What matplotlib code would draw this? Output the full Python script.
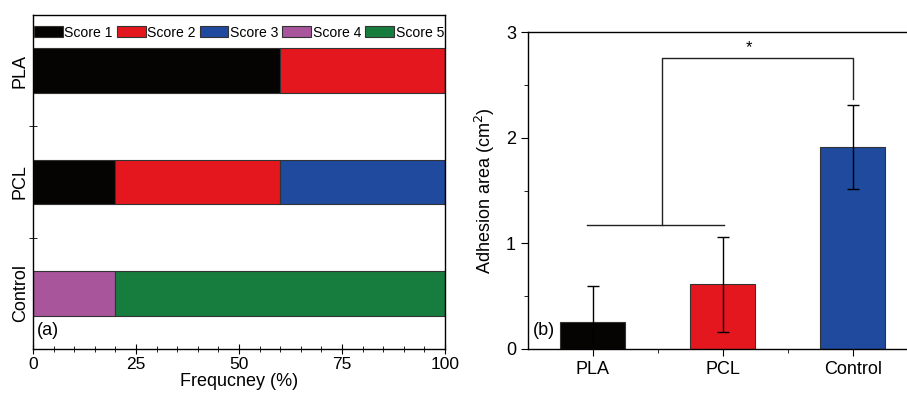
import numpy as np
import matplotlib.pyplot as plt
from matplotlib.ticker import MultipleLocator, FixedLocator

plt.rcParams['font.family'] = ['Liberation Sans', 'DejaVu Sans']

# (a) score distribution per material, percent
groups = ['Control', 'PCL', 'PLA']
score_names = ['Score 1', 'Score 2', 'Score 3', 'Score 4', 'Score 5']
score_pct = {
    'Score 1': [0, 20, 60],
    'Score 2': [0, 40, 40],
    'Score 3': [0, 40, 0],
    'Score 4': [20, 0, 0],
    'Score 5': [80, 0, 0],
}
score_colors = ['#060303', '#e5171e', '#1f4a9e', '#a8559c', '#177d3e']

# (b) adhesion area
materials = ['PLA', 'PCL', 'Control']
area_mean = [0.25, 0.61, 1.91]
area_err = [0.34, 0.45, 0.40]
bar_colors = ['#060303', '#e5171e', '#1f4a9e']

fig = plt.figure(figsize=(9.07, 3.99), dpi=100)

# ---- panel (a) ----
ax1 = fig.add_axes([0.0364, 0.1253, 0.4542, 0.8371])
ypos = np.arange(len(groups))
left = np.zeros(len(groups))
for name, col in zip(score_names, score_colors):
    vals = np.array(score_pct[name], dtype=float)
    ax1.barh(ypos, vals, left=left, height=0.4, color=col,
             edgecolor='#333333', linewidth=0.8, label=name)
    left += vals
ax1.set_xlim(0, 100)
ax1.set_ylim(-0.5, 2.5)
ax1.set_yticks(ypos)
ax1.set_yticklabels(groups, rotation=90, va='center', fontsize=13)
ax1.yaxis.set_minor_locator(FixedLocator([0.5, 1.5]))
ax1.tick_params(axis='y', which='major', length=0, pad=3)
ax1.tick_params(axis='y', which='minor', direction='inout', length=6)
ax1.set_xticks([0, 25, 50, 75, 100])
ax1.xaxis.set_minor_locator(MultipleLocator(5))
ax1.tick_params(axis='x', which='major', direction='inout', length=7, labelsize=12.5, pad=2)
ax1.tick_params(axis='x', which='minor', direction='inout', length=4)
ax1.set_xlabel('Frequcney (%)', fontsize=13, labelpad=1)
ax1.legend(loc='upper center', ncol=5, frameon=False, fontsize=10.1,
           handlelength=2.05, handleheight=0.75, handletextpad=0.12,
           columnspacing=0.28, borderaxespad=0.55, borderpad=0.2,
           bbox_to_anchor=(0.5, 1.0))
ax1.text(0.01, 0.055, '(a)', transform=ax1.transAxes, fontsize=13, va='center')
for s in ax1.spines.values():
    s.set_linewidth(1.0)

# ---- panel (b) ----
ax2 = fig.add_axes([0.5818, 0.1261, 0.43, 0.7929])
xpos = np.arange(len(materials))
ax2.bar(xpos, area_mean, width=0.5, color=bar_colors, edgecolor='#333333', linewidth=0.8)
ax2.errorbar(xpos, area_mean, yerr=area_err, fmt='none', ecolor='black',
             elinewidth=1.0, capsize=4, capthick=1.0)
ax2.set_xlim(-0.5, 2.5)
ax2.set_ylim(0, 3)
ax2.set_xticks(xpos)
ax2.set_xticklabels(materials, fontsize=13)
ax2.xaxis.set_minor_locator(FixedLocator([0.5, 1.5]))
ax2.yaxis.set_major_locator(MultipleLocator(1))
ax2.yaxis.set_minor_locator(MultipleLocator(0.5))
ax2.tick_params(axis='both', which='major', direction='out', length=5, labelsize=13)
ax2.tick_params(axis='both', which='minor', direction='out', length=3)
ax2.tick_params(axis='x', pad=4)
ax2.set_ylabel('Adhesion area (cm$^2$)', fontsize=13, labelpad=6)
ax2.spines['right'].set_visible(False)
for s in ax2.spines.values():
    s.set_linewidth(1.0)
ax2.text(-0.46, 0.17, '(b)', fontsize=13, va='center')

# significance bracket: PLA+PCL vs Control
ax2.plot([-0.04, 1.01], [1.17, 1.17], color='#222222', lw=1.0)
ax2.plot([0.53, 0.53, 2.0, 2.0], [1.17, 2.76, 2.76, 2.37], color='#222222', lw=1.0)
ax2.text(1.2, 2.78, '*', ha='center', va='bottom', fontsize=12)

fig.savefig('out.png', dpi=100)
